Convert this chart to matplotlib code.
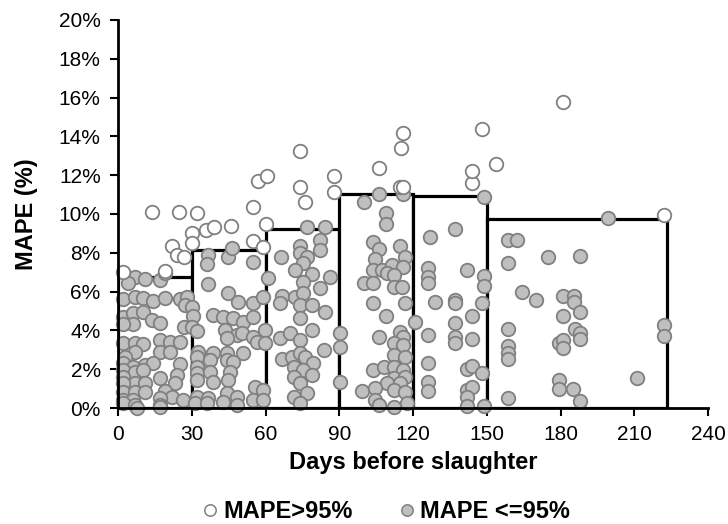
import matplotlib
matplotlib.use("Agg")
import matplotlib.pyplot as plt
from matplotlib.lines import Line2D

plt.rcParams['font.family'] = ['Liberation Sans', 'DejaVu Sans']

# ---- data ----
bin_edges = [0, 30, 60, 90, 120, 150, 223.4]
bin_mape = [6.77, 8.14, 9.22, 11.05, 10.95, 9.72]

open_days = [2.2, 19.1, 13.8, 25.0, 32.0, 22.0, 23.9, 26.9, 30.0, 30.0,
             35.8, 39.1, 46.0, 55.1, 55.1, 56.8, 59.1, 60.2, 60.5, 74.1,
             74.1, 76.1, 87.9, 87.9, 106.0, 114.8, 115.0, 116.1, 116.1, 143.9,
             144.0, 148.0, 153.8, 181.2, 222.0]
open_mape = [7.03, 7.06, 10.09, 10.12, 10.07, 8.35, 7.89, 7.80, 9.00, 8.52,
             9.18, 9.31, 9.40, 10.38, 8.61, 11.72, 8.32, 9.48, 11.96, 13.25,
             11.41, 10.64, 11.96, 11.15, 12.39, 11.38, 13.42, 14.16, 11.41, 11.58,
             12.20, 14.38, 12.56, 15.79, 9.95]

grey_days_a = [6.9, 11.0, 17.1, 4.2, 19.1, 2.2, 6.9, 10.3, 14.1, 19.1,
               25.2, 28.0, 27.3, 30.0, 2.2, 6.2, 10.3, 13.7, 17.1, 6.0,
               2.2, 30.7, 26.9, 30.0, 32.0, 2.2, 6.9, 10.3, 17.1, 21.2,
               25.2, 17.1, 21.2, 6.9, 2.8, 2.2, 6.2, 11.0, 14.4, 25.2,
               2.2, 6.9, 10.3, 2.2, 17.1, 23.9, 23.2, 6.9, 11.0, 2.2,
               2.2, 6.9, 11.0, 19.1, 21.8, 17.1, 2.2, 6.2, 26.6, 2.2,
               6.9, 17.1, 7.6, 17.1]
grey_mape_a = [6.74, 6.63, 6.60, 6.46, 6.98, 5.60, 5.74, 5.67, 5.54, 5.66,
               5.60, 5.74, 5.31, 5.23, 4.71, 4.92, 4.97, 4.54, 4.40, 4.33,
               4.33, 4.74, 4.19, 4.16, 3.99, 3.34, 3.34, 3.28, 3.51, 3.40,
               3.40, 2.91, 2.91, 2.91, 2.65, 2.30, 2.13, 2.22, 2.34, 2.27,
               1.96, 1.87, 1.96, 1.62, 1.53, 1.70, 1.27, 1.27, 1.27, 1.27,
               0.84, 0.84, 0.84, 0.90, 0.59, 0.53, 0.41, 0.41, 0.41, 0.24,
               0.16, 0.16, 0.00, 0.04]

grey_days_b = [36.8, 36.1, 44.9, 55.1, 46.3, 36.8, 44.9, 49.0, 55.1, 59.1,
               38.8, 42.9, 46.9, 51.0, 55.1, 43.5, 48.3, 44.2, 50.3, 55.1,
               56.4, 32.7, 32.0, 38.8, 44.2, 51.0, 37.4, 32.0, 32.0, 37.4,
               44.2, 46.9, 45.6, 38.8, 32.0, 44.9, 32.0, 36.8, 44.2, 48.3,
               55.8, 59.1, 55.1, 59.1, 31.3, 36.1, 42.9, 48.3]
grey_mape_b = [7.89, 7.42, 7.77, 7.54, 8.23, 6.39, 5.91, 5.48, 5.43, 5.74,
               4.80, 4.71, 4.62, 4.45, 4.71, 4.02, 3.77, 3.59, 3.85, 3.68,
               3.42, 2.91, 2.65, 2.82, 2.82, 2.85, 2.48, 2.13, 1.79, 1.87,
               2.48, 2.39, 1.87, 1.36, 1.45, 1.45, 0.59, 0.50, 0.76, 0.59,
               1.10, 0.93, 0.41, 0.41, 0.24, 0.24, 0.33, 0.16]

grey_days_c = [76.8, 84.3, 82.2, 82.2, 74.1, 74.1, 66.2, 76.8, 75.4, 72.0,
               78.8, 86.3, 75.2, 61.2, 66.6, 72.0, 75.4, 65.9, 74.1, 78.8,
               74.1, 84.3, 82.2, 59.8, 59.8, 65.9, 70.0, 74.1, 78.8, 83.6,
               66.6, 70.7, 74.1, 76.1, 79.5, 71.4, 75.4, 78.8, 71.4, 74.1,
               71.4, 76.8, 74.1, 90.4, 90.4, 90.4]
grey_mape_c = [9.31, 9.31, 8.66, 8.15, 8.35, 7.97, 7.80, 7.77, 7.46, 7.12,
               6.91, 6.77, 6.51, 6.69, 5.78, 5.74, 5.91, 5.40, 5.31, 5.31,
               4.62, 4.97, 6.17, 4.02, 3.34, 3.59, 3.85, 3.51, 4.02, 2.99,
               2.51, 2.65, 2.82, 2.65, 2.30, 2.13, 1.96, 1.70, 1.62, 1.27,
               0.59, 0.76, 0.24, 3.85, 3.16, 1.36]

grey_days_d = [99.9, 109.1, 109.1, 106.0, 116.1, 103.9, 106.0, 104.6, 114.8, 116.8,
               103.9, 107.3, 111.4, 116.1, 99.9, 103.9, 109.4, 112.1, 112.1, 115.5,
               103.9, 109.1, 116.8, 106.0, 120.9, 114.8, 116.1, 112.1, 116.1, 112.1,
               116.8, 103.9, 108.0, 112.1, 116.1, 112.1, 116.8, 109.4, 114.8, 99.2,
               104.6, 112.1, 116.8, 104.6, 106.0, 112.1, 117.5]
grey_mape_d = [10.64, 10.07, 9.49, 11.03, 11.03, 8.58, 8.18, 7.67, 8.35, 7.77,
               7.12, 7.12, 7.37, 7.29, 6.43, 6.43, 6.94, 6.86, 6.22, 6.26,
               5.43, 4.74, 5.40, 3.68, 4.42, 3.94, 3.68, 3.34, 3.25, 2.73,
               2.65, 1.96, 2.13, 2.13, 1.96, 1.53, 1.62, 1.27, 1.27, 0.90,
               1.02, 0.93, 0.84, 0.41, 0.16, 0.07, 0.24]

grey_days_e = [126.9, 137.1, 125.9, 125.9, 125.9, 141.9, 148.9, 148.9, 129.0, 137.1,
               137.1, 148.0, 143.9, 137.1, 125.9, 137.1, 137.1, 143.9, 125.9, 141.9,
               143.9, 148.0, 125.9, 125.9, 141.9, 143.9, 141.9, 141.9, 148.9, 148.9]
grey_mape_e = [8.80, 9.21, 7.20, 6.77, 6.43, 7.12, 6.81, 6.29, 5.48, 5.57,
               5.40, 5.43, 4.74, 4.37, 3.77, 3.68, 3.37, 3.54, 2.34, 1.99,
               2.17, 1.82, 1.36, 0.90, 0.93, 1.07, 0.59, 0.11, 0.11, 10.90]

grey_days_f = [158.8, 162.2, 158.8, 175.1, 164.3, 170.1, 181.2, 181.2, 158.8, 158.8,
               158.8, 158.8, 179.2, 181.2, 181.2, 179.2, 179.2, 158.8, 199.2, 188.0,
               185.3, 185.3, 188.0, 186.0, 188.0, 188.0, 222.0, 222.0, 211.1, 185.0,
               188.0]
grey_mape_f = [8.66, 8.66, 7.49, 7.80, 6.00, 5.57, 5.78, 4.74, 4.06, 3.20,
               2.85, 2.51, 3.34, 3.51, 3.08, 1.45, 0.96, 0.50, 9.81, 7.84,
               5.78, 5.48, 4.97, 4.06, 3.89, 3.54, 4.28, 3.71, 1.57, 0.98,
               0.38]

x_ticks = [0, 30, 60, 90, 120, 150, 180, 210, 240]
y_ticks = [0, 2, 4, 6, 8, 10, 12, 14, 16, 18, 20]

legend_labels = ['MAPE>95%', 'MAPE <=95%']

# ---- figure ----
fig = plt.figure(figsize=(7.28, 5.24), dpi=100)
ax = fig.add_axes([118 / 728, 1 - 408 / 524, 590 / 728, 388 / 524])

widths = [bin_edges[i + 1] - bin_edges[i] for i in range(len(bin_mape))]
ax.bar(bin_edges[:-1], bin_mape, width=widths, align='edge', color='white',
       edgecolor='black', linewidth=2.3, zorder=1)

grey_days = grey_days_a + grey_days_b + grey_days_c + grey_days_d + grey_days_e + grey_days_f
grey_mape = grey_mape_a + grey_mape_b + grey_mape_c + grey_mape_d + grey_mape_e + grey_mape_f

ax.scatter(grey_days, grey_mape, s=95, facecolor='#bfbfbf', edgecolor='#808080',
           linewidth=1.3, zorder=2, clip_on=False)
ax.scatter(open_days, open_mape, s=95, facecolor='white', edgecolor='#808080',
           linewidth=1.3, zorder=2, clip_on=False)

ax.set_xlim(0, 240)
ax.set_ylim(0, 20)
ax.set_xticks(x_ticks)
ax.set_xticklabels([str(t) for t in x_ticks])
ax.set_yticks(y_ticks)
ax.set_yticklabels([f'{t}%' for t in y_ticks])

for side in ['top', 'right']:
    ax.spines[side].set_visible(False)
for side in ['left', 'bottom']:
    ax.spines[side].set_linewidth(2)
    ax.spines[side].set_zorder(3)
ax.tick_params(axis='both', direction='out', length=5.5, width=1.5,
               labelsize=15, colors='black', pad=7)

ax.set_xlabel('Days before slaughter', fontsize=17, fontweight='bold', labelpad=5)
ax.set_ylabel('MAPE (%)', fontsize=17, fontweight='bold', labelpad=15)

handles = [
    Line2D([], [], linestyle='none', marker='o', markersize=8.2,
           markerfacecolor='white', markeredgecolor='#808080', markeredgewidth=1.1),
    Line2D([], [], linestyle='none', marker='o', markersize=8.2,
           markerfacecolor='#bfbfbf', markeredgecolor='#808080', markeredgewidth=1.1),
]
leg = fig.legend(handles, legend_labels, loc='center', bbox_to_anchor=(0.531, 0.024),
                 ncol=2, frameon=False, handletextpad=0.25, columnspacing=2.0,
                 handlelength=0.6, borderpad=0.0,
                 prop={'size': 17, 'weight': 'bold'})

fig.savefig('out.png', dpi=100)
